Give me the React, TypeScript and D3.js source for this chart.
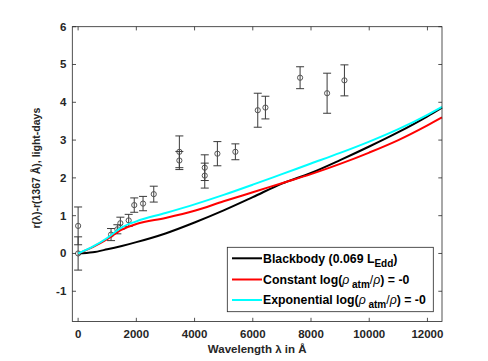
import * as d3 from 'd3';
import React from 'react';

// measured lags (wavelength in A, lag in light-days, error)
const obsWave = [0, 0, 1131, 1348, 1451, 1737, 1928, 2230, 2598, 3478, 3478, 4350, 4350, 4784, 5402, 6171, 6434, 7625, 8553, 9148];
const obsLag = [0.73, 0, 0.50, 0.64, 0.80, 0.875, 1.28, 1.32, 1.57, 2.69, 2.46, 2.27, 2.06, 2.64, 2.69, 3.79, 3.86, 4.65, 4.24, 4.58];
const obsErr = [0.5, 0.44, 0.16, 0.12, 0.16, 0.16, 0.19, 0.19, 0.21, 0.42, 0.24, 0.34, 0.33, 0.32, 0.21, 0.45, 0.30, 0.29, 0.53, 0.41];

// model curves
const modelWave = [0, 500, 1000, 1500, 2000, 3000, 4000, 5000, 6000, 7000, 8000, 9000, 10000, 11000, 12000, 12500];
const blackbody = [0, 0.03, 0.11, 0.2, 0.3, 0.53, 0.82, 1.14, 1.49, 1.85, 2.13, 2.47, 2.83, 3.21, 3.63, 3.86];
const constant = [0, 0.17, 0.38, 0.63, 0.78, 0.94, 1.13, 1.38, 1.62, 1.86, 2.1, 2.37, 2.67, 3.0, 3.39, 3.6];
const exponential = [0, 0.18, 0.41, 0.69, 0.85, 1.07, 1.3, 1.55, 1.82, 2.1, 2.38, 2.66, 2.96, 3.29, 3.67, 3.88];

const xTicks = [0, 2000, 4000, 6000, 8000, 10000, 12000];
const yTicks = [-1, 0, 1, 2, 3, 4, 5, 6];

const W = 488, H = 361;
const left = 72.3, right = 442, top = 26.7, bottom = 321.5;

export default function App() {
  const x = d3.scaleLinear().domain([-200, 12500]).range([left, right]);
  const y = d3.scaleLinear().domain([-1.8, 6]).range([bottom, top]);

  const line = d3.line<number>()
    .x((d, i) => x(modelWave[i]))
    .y(d => y(d))
    .curve(d3.curveMonotoneX);

  const series = [
    { vals: blackbody, color: '#000000' },
    { vals: constant, color: '#ff0000' },
    { vals: exponential, color: '#00ffff' },
  ];

  const axisCol = '#262626';
  const font = 'Liberation Sans, Arial, Helvetica, sans-serif';
  const tl = 3.7;

  return (
    <svg width={W} height={H} style={{ position: 'absolute', left: 0, top: 0 }} fontFamily={font}>
      <rect width={W} height={H} fill="white" />
      <rect x={left} y={top} width={right - left} height={bottom - top} fill="white" />

      {/* error bars and points */}
      {obsWave.map((w, i) => {
        const cx = x(w), lo = y(obsLag[i] - obsErr[i]), hi = y(obsLag[i] + obsErr[i]);
        return (
          <g key={'e' + i} stroke="#3a3a3a" strokeWidth={1} fill="none">
            <line x1={cx} x2={cx} y1={lo} y2={hi} />
            <line x1={cx - 4} x2={cx + 4} y1={lo} y2={lo} />
            <line x1={cx - 4} x2={cx + 4} y1={hi} y2={hi} />
            <circle cx={cx} cy={y(obsLag[i])} r={2.6} stroke="#555" />
          </g>
        );
      })}

      {series.map((s, i) => (
        <path key={'s' + i} d={line(s.vals) || ''} fill="none" stroke={s.color} strokeWidth={2} />
      ))}

      {/* axes box */}
      <rect x={left} y={top} width={right - left} height={bottom - top} fill="none" stroke={axisCol} strokeWidth={0.8} />
      {xTicks.map(t => (
        <g key={'x' + t} stroke={axisCol} strokeWidth={0.8}>
          <line x1={x(t)} x2={x(t)} y1={bottom} y2={bottom - tl} />
          <line x1={x(t)} x2={x(t)} y1={top} y2={top + tl} />
        </g>
      ))}
      {yTicks.map(t => (
        <g key={'y' + t} stroke={axisCol} strokeWidth={0.8}>
          <line x1={left} x2={left + tl} y1={y(t)} y2={y(t)} />
          <line x1={right} x2={right - tl} y1={y(t)} y2={y(t)} />
        </g>
      ))}
      {xTicks.map(t => (
        <text key={'xl' + t} x={x(t)} y={338} textAnchor="middle" fontSize={11.5} fontWeight="bold" fill={axisCol}>{t}</text>
      ))}
      {yTicks.map(t => (
        <text key={'yl' + t} x={left - 6} y={y(t) + 4} textAnchor="end" fontSize={11.5} fontWeight="bold" fill={axisCol}>{t}</text>
      ))}
      <text x={(left + right) / 2} y={353} textAnchor="middle" fontSize={11.5} fontWeight="bold" fill={axisCol}>Wavelength λ in Å</text>
      <text transform={`translate(40,${(top + bottom) / 2 - 6}) rotate(-90)`} textAnchor="middle" fontSize={10.5} fontWeight="bold" fill={axisCol}>r(λ)-r(1367 Å), light-days</text>

      {/* legend */}
      <g>
        <rect x={227.3} y={247.3} width={206} height={64.4} fill="white" stroke={axisCol} strokeWidth={0.8} />
        {[
          { c: '#000000', y: 258.3 },
          { c: '#ff0000', y: 279.5 },
          { c: '#00ffff', y: 300 },
        ].map((r, i) => (
          <line key={'ll' + i} x1={232} x2={262} y1={r.y} y2={r.y} stroke={r.c} strokeWidth={2} />
        ))}
        <text x={263} y={262.5} fontSize={12.3} fontWeight="bold" fill="#000">
          Blackbody (0.069 L<tspan fontSize={10} dy={4}>Edd</tspan><tspan dy={-4}>)</tspan>
        </text>
        <text x={263} y={283.5} fontSize={12.3} fontWeight="bold" fill="#000">
          Constant log(<tspan fontStyle="italic" fontWeight="normal">ρ</tspan><tspan fontSize={10} dy={4}> atm</tspan><tspan dy={-4} fontWeight="normal">/</tspan><tspan fontStyle="italic" fontWeight="normal">ρ</tspan>) = -0
        </text>
        <text x={263} y={304} fontSize={12.3} fontWeight="bold" fill="#000">
          Exponential log(<tspan fontStyle="italic" fontWeight="normal">ρ</tspan><tspan fontSize={10} dy={4}> atm</tspan><tspan dy={-4} fontWeight="normal">/</tspan><tspan fontStyle="italic" fontWeight="normal">ρ</tspan>) = -0
        </text>
      </g>
    </svg>
  );
}
